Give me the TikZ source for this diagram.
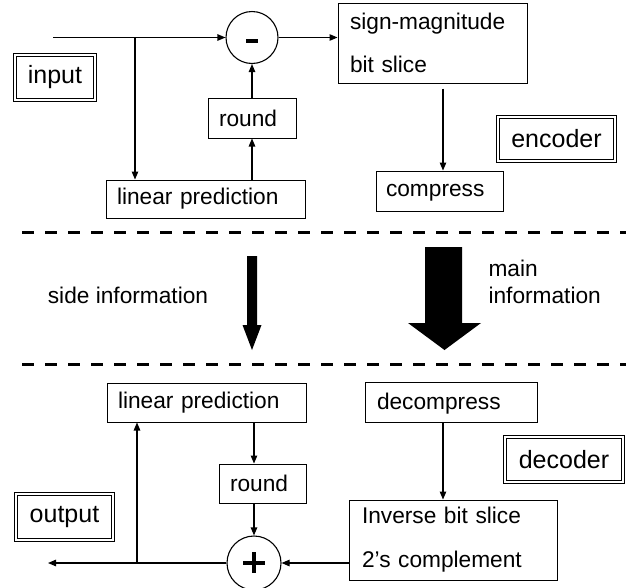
\documentclass[tikz,border=0pt]{standalone}
\usepackage{fontspec}
\setmainfont{Liberation Sans}
\usetikzlibrary{arrows.meta}
\begin{document}
\begin{tikzpicture}[x=1pt,y=-1pt,
  every node/.style={font=\fontsize{22.7}{27}\selectfont},
  blk/.style={draw, line width=1pt, inner ysep=0pt, align=left},
  lbl/.style={draw, line width=1.6pt, double, double distance=1.1pt, font=\fontsize{25}{30}\selectfont, inner sep=0pt, align=center},
  arr/.style={line width=1.1pt, -{Triangle[length=8pt,width=6.5pt]}},
  sep/.style={line width=3pt, dash pattern=on 12pt off 11pt},
  sum/.style={draw, circle, line width=1.1pt, minimum size=52pt, inner sep=0pt},
  bigarrow/.style={fill=black}
]
\fill[white] (0,0) rectangle (626,587);
\useasboundingbox (0,0) rectangle (626,587);

% ---------- encoder ----------
\node[sum] (minus) at (252,37.5) {};
\fill ([shift={(-6,1.5)}]minus.center) rectangle ([shift={(6,5.5)}]minus.center);
\node[blk, inner xsep=12pt, text width=165pt, minimum height=80pt, font=\fontsize{22.7}{43}\selectfont] (sm) at (432.5,43) {sign-magnitude\\bit slice};
\node[blk, inner xsep=10pt, text width=107pt, minimum height=40pt, text depth=1pt] (comp) at (439.5,191) {compress};
\node[blk, inner xsep=11pt, text width=177pt, minimum height=38pt] (lp1) at (205.5,199) {linear prediction};
\node[blk, inner xsep=11pt, text width=66pt, minimum height=40pt] (rnd1) at (252,118) {round};
\node[lbl, minimum width=80pt, minimum height=45pt] (input) at (55,77.5) {input};
\node[lbl, minimum width=117pt, minimum height=44pt] (encoder) at (556.5,139) {encoder};

\coordinate (in1) at (53,37.5);
\coordinate (br1) at (135,37.5);
\draw[line width=1.1pt] (in1) -- (br1);
\draw[arr] (br1) -- (minus.west);
\draw[arr] (br1) -- (br1 |- lp1.north);
\draw[arr] (rnd1.south |- lp1.north) -- (rnd1.south);
\draw[arr] (rnd1.north) -- (minus.south);
\draw[arr] (minus.east) -- (minus.east -| sm.west);
\draw[arr, shorten <=5pt] ([xshift=3.5pt]comp.north |- sm.south) -- ([xshift=3.5pt]comp.north);

% ---------- separators ----------
\draw[sep] (22,232) -- (626,232);
\draw[sep] (22,364) -- (626,364);

\fill[bigarrow] (247,256) -- (257,256) -- (257,325) -- (261.5,325) -- (252,350) -- (242.5,325) -- (247,325) -- cycle;
\fill[bigarrow] (425,247) -- (462,247) -- (462,323) -- (481,323) -- (444.5,350) -- (408,323) -- (425,323) -- cycle;
\node (side) at (128,295) {side information};
\node[anchor=west, align=left] (main) at (485,282) {main\\information};

% ---------- decoder ----------
\node[blk, inner xsep=11pt, text width=177pt, minimum height=39pt] (lp2) at (206.5,402.5) {linear prediction};
\node[blk, inner xsep=11pt, text width=65pt, minimum height=39pt] (rnd2) at (262.5,483.5) {round};
\node[blk, inner xsep=12pt, text width=148pt, minimum height=40pt, text depth=1pt] (decomp) at (451,402) {decompress};
\node[blk, inner xsep=13pt, text width=182pt, minimum height=80pt, font=\fontsize{22.7}{44}\selectfont] (inv) at (453,540) {Inverse bit slice\\2's complement};
\node[sum, minimum size=54pt] (plus) at (254,563) {};
\fill ([shift={(-11,-2)}]plus.center) rectangle ([shift={(11,2)}]plus.center);
\fill ([shift={(-2,-11)}]plus.center) rectangle ([shift={(2,10)}]plus.center);
\node[lbl, minimum width=97pt, minimum height=46pt] (output) at (64.5,517) {output};
\node[lbl, minimum width=118pt, minimum height=45pt] (decoder) at (564,459.5) {decoder};

\draw[arr] (lp2.south -| plus.north) -- (plus.north |- rnd2.north);
\draw[arr] (plus.north |- rnd2.south) -- (plus.north);
\coordinate (out1) at (48,563);
\coordinate (j2) at (137,563);
\draw[arr] (plus.west) -- (out1);
\draw[arr] (j2) -- (j2 |- lp2.south);
\draw[arr] ([xshift=-8pt]decomp.south) -- ([xshift=-8pt]decomp.south |- inv.north);
\draw[arr] (inv.west |- plus.east) -- (plus.east);
\end{tikzpicture}
\end{document}
